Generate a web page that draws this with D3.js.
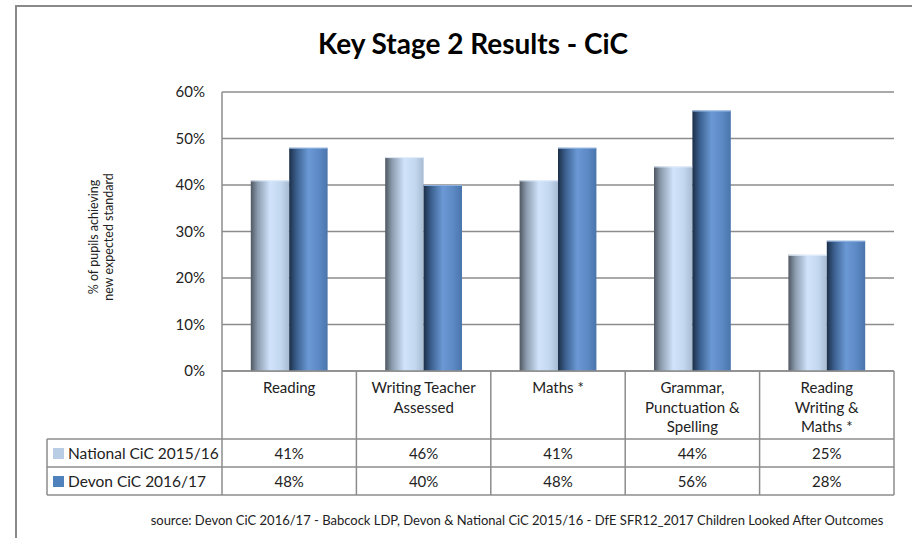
<!DOCTYPE html>
<html lang="en">
<head>
<meta charset="utf-8">
<title>Key Stage 2 Results - CiC</title>
<script src="https://d3js.org/d3.v7.min.js"></script>
<style>
  body { margin: 0; background: #fff; }
  svg { display: block; font-family: Lato, "Open Sans", sans-serif; }
</style>
</head>
<body>
<svg id="chart" width="912" height="538"></svg>
<script>
var categories = [
  ["Reading"],
  ["Writing Teacher", "Assessed"],
  ["Maths *"],
  ["Grammar,", "Punctuation &", "Spelling"],
  ["Reading", "Writing &", "Maths *"]
];
var series = ["National CiC 2015/16", "Devon CiC 2016/17"];
var national = [0.41, 0.46, 0.41, 0.44, 0.25];
var devon = [0.48, 0.40, 0.48, 0.56, 0.28];
var yTicks = [0, 0.1, 0.2, 0.3, 0.4, 0.5, 0.6];

var values = [national, devon];
var svg = d3.select("#chart");

// frame
svg.append("path")
  .attr("d", "M16,538 V6 H912")
  .attr("fill", "none").attr("stroke", "#8a8a8a").attr("stroke-width", 2);

svg.append("text")
  .attr("x", 473).attr("y", 54)
  .attr("text-anchor", "middle")
  .style("font-size", "28px").style("font-weight", "bold")
  .text("Key Stage 2 Results - CiC");

var pLeft = 222, pRight = 894, pTop = 92, pBottom = 371;
var catIdx = d3.range(categories.length);
var x0 = d3.scaleBand().domain(catIdx).range([pLeft, pRight]).padding(0);
var x1 = d3.scaleBand().domain(d3.range(series.length))
  .range([0, x0.bandwidth()]).paddingInner(0).paddingOuter(0.75);
var y = d3.scaleLinear().domain([0, 0.6]).range([pBottom, pTop]);

// gradients
var defs = svg.append("defs");
var gradStops = [
  [["0%", "#4f5761"], ["18%", "#8c9cae"], ["50%", "#d0e3fb"], ["78%", "#c3d7ef"], ["100%", "#a7bbd3"]],
  [["0%", "#1c2f48"], ["20%", "#3c6190"], ["50%", "#6b99d5"], ["78%", "#5c89c4"], ["100%", "#4a74ab"]]
];
gradStops.forEach(function(st, i) {
  var g = defs.append("linearGradient").attr("id", "g" + i)
    .attr("x1", "0%").attr("x2", "100%").attr("y1", "0%").attr("y2", "0%");
  st.forEach(function(s) { g.append("stop").attr("offset", s[0]).attr("stop-color", s[1]); });
});

// gridlines
svg.append("g").selectAll("line").data(yTicks).join("line")
  .attr("x1", pLeft).attr("x2", pRight)
  .attr("y1", d => y(d)).attr("y2", d => y(d))
  .attr("stroke", "#8c8c8c").attr("stroke-width", 1.5);

// y axis
var yAxis = d3.axisLeft(y).tickValues(yTicks).tickFormat(d3.format(".0%")).tickSize(0).tickPadding(17);
var ya = svg.append("g").attr("transform", "translate(" + pLeft + ",0)").call(yAxis);
ya.select(".domain").remove();
ya.selectAll("text").style("font-size", "15px").style("font-family", "Lato, sans-serif").attr("fill", "#222");

svg.append("line").attr("x1", pLeft).attr("x2", pLeft).attr("y1", pTop).attr("y2", pBottom)
  .attr("stroke", "#8c8c8c").attr("stroke-width", 1.5);

var yt = svg.append("text").attr("transform", "translate(101,237) rotate(-90)")
  .attr("text-anchor", "middle").style("font-size", "12.5px").attr("fill", "#222");
yt.append("tspan").attr("x", 0).attr("dy", "-0.25em").text("% of pupils achieving");
yt.append("tspan").attr("x", 0).attr("dy", "1.2em").text("new expected standard");

// bars
var groups = svg.append("g").selectAll("g").data(catIdx).join("g")
  .attr("transform", d => "translate(" + x0(d) + ",0)");
groups.selectAll("rect").data(c => values.map((v, s) => ({ s: s, v: v[c] }))).join("rect")
  .attr("x", d => x1(d.s)).attr("width", x1.bandwidth())
  .attr("y", d => y(d.v)).attr("height", d => y(0) - y(d.v))
  .attr("fill", d => "url(#g" + d.s + ")");
groups.selectAll("line.hl").data(c => values.map((v, s) => ({ s: s, v: v[c] }))).join("line")
  .attr("class", "hl")
  .attr("x1", d => x1(d.s)).attr("x2", d => x1(d.s) + x1.bandwidth())
  .attr("y1", d => y(d.v) + 0.5).attr("y2", d => y(d.v) + 0.5)
  .attr("stroke", d => d.s ? "#8fb2e0" : "#e3eefc").attr("stroke-width", 1);

// data table
var tableLeft = 47, row0 = pBottom, row1 = 439, row2 = 467, row3 = 495;
var tg = svg.append("g").attr("stroke", "#8c8c8c").attr("stroke-width", 1.5);
tg.append("line").attr("x1", pLeft).attr("x2", pRight).attr("y1", row0).attr("y2", row0);
[row1, row2, row3].forEach(function(r) {
  tg.append("line").attr("x1", tableLeft).attr("x2", pRight).attr("y1", r).attr("y2", r);
});
tg.append("line").attr("x1", tableLeft).attr("x2", tableLeft).attr("y1", row1).attr("y2", row3);
catIdx.concat([categories.length]).forEach(function(i) {
  var xx = i < categories.length ? x0(i) : pRight;
  tg.append("line").attr("x1", xx).attr("x2", xx).attr("y1", row0).attr("y2", row3);
});

var labels = svg.append("g").selectAll("text").data(catIdx).join("text")
  .attr("text-anchor", "middle").style("font-size", "15px").attr("fill", "#222")
  .attr("transform", d => "translate(" + (x0(d) + x0.bandwidth() / 2) + "," + (row0 + 22) + ")");
labels.selectAll("tspan").data(d => categories[d]).join("tspan")
  .attr("x", 0).attr("dy", (d, i) => i ? 19.5 : 0).text(d => d);

var swatch = ["#b9cde5", "#4f81bd"];
[row1, row2].forEach(function(r, s) {
  svg.append("rect").attr("x", 53).attr("y", r + 9).attr("width", 11).attr("height", 11).attr("fill", swatch[s]);
  svg.append("text").attr("x", 68).attr("y", r + 20).style("font-size", "15.5px").attr("fill", "#222").text(series[s]);
  svg.append("g").selectAll("text").data(catIdx).join("text")
    .attr("x", d => x0(d) + x0.bandwidth() / 2).attr("y", r + 20)
    .attr("text-anchor", "middle").style("font-size", "15px").attr("fill", "#222")
    .text(d => d3.format(".0%")(values[s][d]));
});

svg.append("text").attr("x", 517).attr("y", 525).attr("text-anchor", "middle")
  .style("font-size", "13px").attr("fill", "#222")
  .text("source: Devon CiC 2016/17 - Babcock LDP, Devon & National CiC 2015/16 - DfE SFR12_2017 Children Looked After Outcomes");
</script>
</body>
</html>
